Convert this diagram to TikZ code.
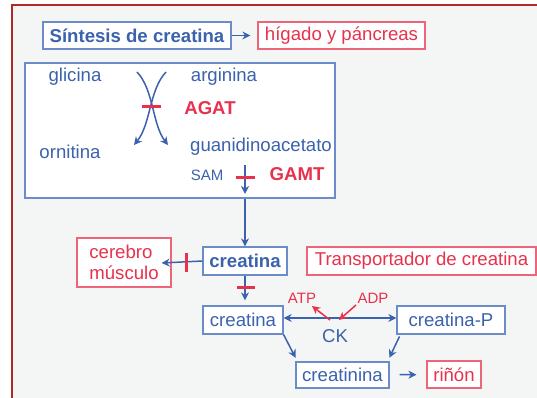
\documentclass[tikz,border=0pt]{standalone}
\usepackage{fontspec}
\setmainfont{Liberation Sans}
\usetikzlibrary{arrows.meta}
\definecolor{bl}{HTML}{3B62AD}
\definecolor{bbord}{HTML}{6B8CC8}
\definecolor{rd}{HTML}{E8314C}
\definecolor{rbord}{HTML}{EE6478}
\definecolor{bgc}{HTML}{F4F5F5}
\definecolor{framec}{HTML}{B02A2A}
\tikzset{
  tip/.style={-{Stealth[length=8pt,width=8pt,inset=2.5pt]}},
  bbox/.style={draw=bbord, fill=white, line width=1.2pt, text=bl, inner sep=0pt},
  rbox/.style={draw=rbord, fill=white, line width=1.2pt, text=rd, inner sep=0pt},
  btxt/.style={text=bl, inner sep=0pt},
  rtxt/.style={text=rd, inner sep=0pt},
  small/.style={font=\fontsize{15}{18}\selectfont},
  arr/.style={draw=bl, line width=1.5pt, tip},
  darr/.style={draw=bl, line width=1.5pt, {Stealth[length=8pt,width=8pt,inset=2.5pt]}-{Stealth[length=8pt,width=8pt,inset=2.5pt]}},
  rarr/.style={draw=rd, line width=1.5pt, tip},
  inhib/.style={draw=rd, line width=3pt}
}
\begin{document}
\fontsize{18.6}{22}\selectfont
\begin{tikzpicture}[x=1pt, y=-1pt]
\useasboundingbox (0,0) rectangle (537,398);
\fill[white] (0,0) rectangle (537,398);
\fill[bgc] (12,5) rectangle (537,398);
\draw[framec, line width=2.5pt] (12,400) -- (12,5) -- (540,5);

% top row
\node[bbox, minimum width=188, minimum height=27, font=\bfseries] (syn) at (137,35.5) {Síntesis de creatina};
\node[rbox, minimum width=167, minimum height=27] (hig) at (341.5,35.5) {hígado y páncreas};
\draw[arr, shorten >=7pt] (syn) -- (hig);

% synthesis box
\node[draw=bbord, fill=white, line width=1.2pt, minimum width=310, minimum height=135, inner sep=0pt] (big) at (180,130.5) {};
\node[btxt] (gli) at (75,77) {glicina};
\node[btxt] (arg) at (224,77) {arginina};
\node[btxt] (orn) at (70,152) {ornitina};
\node[btxt] (gua) at (261,147) {guanidinoacetato};
\node[btxt, small] (sam) at (207,175) {SAM};
\node[rtxt, font=\bfseries] (agat) at (210,108) {AGAT};
\node[rtxt, font=\bfseries] (gamt) at (297,174) {GAMT};

\coordinate (xa1) at (137,72);
\coordinate (xa2) at (168,145);
\coordinate (xb1) at (166,72);
\coordinate (xb2) at (134,145);
\draw[arr] (xa1) .. controls (154,90) and (152,124) .. (xa2);
\draw[arr] (xb1) .. controls (149,90) and (151,124) .. (xb2);
\draw[inhib] (142,107) -- (161,107);

\coordinate (g1) at (245,165);
\coordinate (g2) at (245,194);
\draw[arr] (g1) -- (g2);
\draw[inhib] (236,177) -- (255,177);

% creatina level
\node[bbox, minimum width=84, minimum height=28, font=\bfseries] (cre) at (245,261) {creatina};
\node[rbox, minimum width=94, minimum height=49, align=left] (cer) at (124,262.5) {cerebro\\[-1pt]músculo};
\node[rbox, minimum width=229, minimum height=28] (tra) at (421.5,261) {Transportador de creatina};
\draw[arr] (cre.north |- big.south) -- (cre.north);
\draw[arr, shorten >=-10pt] (cre.west) -- (cer.east);
\draw[inhib] (186,253) -- (186,272);

% bottom
\node[bbox, minimum width=80, minimum height=28] (cr2) at (243,320) {creatina};
\node[bbox, minimum width=108, minimum height=28] (crp) at (451,320) {creatina-P};
\node[bbox, minimum width=93, minimum height=26] (crn) at (342.5,375) {creatinina};
\node[rbox, minimum width=54, minimum height=27] (rin) at (454,374.5) {riñón};
\draw[arr, shorten >=5pt] (cre.south) -- (cre.south |- cr2.north);
\draw[inhib] (237,287) -- (255,287);
\draw[darr] ([yshift=2pt]cr2.east) -- ([yshift=2pt]crp.west);
\node[btxt] (ck) at (335,336) {CK};
\node[rtxt, small] (atp) at (302,298) {ATP};
\node[rtxt, small] (adp) at (373,298) {ADP};
\coordinate (atps) at (330,320);
\coordinate (adps) at (339,320);
\draw[rarr] (atps) -- (312,306);
\draw[rarr] (356,305) -- (adps);
\draw[arr, shorten >=4pt] (cr2.south east) -- ([xshift=2pt]crn.north west);
\draw[arr, shorten >=4pt, shorten <=2pt] ([xshift=4pt]crp.south west) -- ([xshift=-2pt]crn.north east);
\draw[arr, shorten <=10pt, shorten >=10pt] (crn) -- (rin);
\end{tikzpicture}
\end{document}
